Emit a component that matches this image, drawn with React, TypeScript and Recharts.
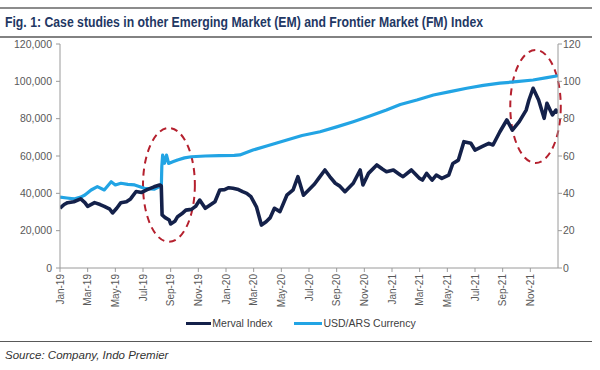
import React from "react";
import { LineChart, Line, XAxis, YAxis, ReferenceArea } from "recharts";

// x = months since 1 Jan 2019
const tickMonths = [0, 2, 4, 6, 8, 10, 12, 14, 16, 18, 20, 22, 24, 26, 28, 30, 32, 34];
const tickLabels = [
  "Jan-19", "Mar-19", "May-19", "Jul-19", "Sep-19", "Nov-19",
  "Jan-20", "Mar-20", "May-20", "Jul-20", "Sep-20", "Nov-20",
  "Jan-21", "Mar-21", "May-21", "Jul-21", "Sep-21", "Nov-21",
];

const mervalMonths = [
  0, 0.3, 0.55, 1, 1.5, 1.8, 2, 2.5, 2.9, 3.2, 3.6, 3.8, 4.1, 4.4, 4.8, 5.1, 5.5, 5.9,
  6.3, 6.8, 7.2, 7.32, 7.38, 7.6, 7.9, 8, 8.3, 8.5, 8.8, 9.1, 9.5, 9.8, 10.1, 10.5, 10.8,
  11.2, 11.55, 11.9, 12.2, 12.5, 12.9, 13.2, 13.5, 13.8, 14.2, 14.56, 14.9, 15.2, 15.5,
  15.9, 16.4, 16.85, 17.2, 17.6, 18.1, 18.4, 18.7, 19.15, 19.5, 19.9, 20.2, 20.6, 21.2,
  21.7, 21.9, 22.3, 22.9, 23.3, 23.6, 24.1, 24.6, 24.8, 25.4, 26, 26.2, 26.5, 26.9, 27.2,
  27.6, 28.1, 28.4, 28.8, 29.2, 29.7, 30, 30.5, 31, 31.3, 31.8, 32.3, 32.7, 33.2, 33.7,
  33.9, 34.2, 34.6, 35, 35.2, 35.6, 35.85, 36,
];
const mervalValues = [
  32000, 34000, 35000, 35500, 37000, 35000, 33000, 35000, 34000, 33000, 31500, 29500,
  32000, 35000, 35500, 37000, 41000, 40500, 42000, 43500, 44500, 44000, 28400, 27000,
  25700, 23600, 25000, 27500, 29000, 31000, 31400, 33000, 36400, 32000, 33500, 35500,
  41800, 42000, 43000, 42700, 42000, 40900, 40000, 38200, 32800, 23000, 24800, 27000,
  32000, 30200, 39000, 41800, 48900, 39000, 42700, 45000, 48000, 52500, 49000, 45400,
  44000, 40900, 45400, 52500, 44500, 50700, 55200, 53000, 51600, 52500, 49800, 48900,
  52500, 48000, 47100, 50700, 47100, 49800, 48000, 49800, 56000, 57800, 67700, 66800,
  63200, 65000, 66800, 65900, 73000, 79300, 73900, 78400, 84600, 90000, 96300, 90000,
  80200, 88200, 82000, 84600, 83000,
];

const usdMonths = [
  0, 0.5, 1, 1.5, 1.8, 2.25, 2.7, 3.2, 3.7, 4, 4.4, 4.9, 5.4, 6.1, 6.8, 7.2, 7.33, 7.36,
  7.42, 7.55, 7.7, 7.85, 8.2, 8.5, 9, 9.5, 10.5, 11.5, 12.6, 13, 13.95, 15, 16.4, 17.5,
  18.8, 20, 21.2, 22.4, 23.6, 24.6, 25.8, 27, 28.2, 29.4, 30.6, 31.8, 33, 34.2, 35.2, 36,
];
const usdValues = [
  38, 37.5, 37, 38, 39.1, 41.8, 43.6, 41.8, 46.2, 44.5, 45.4, 44.8, 44.5, 42.7, 42.2,
  43.6, 45, 54.3, 60.5, 56.1, 60.5, 56, 57, 57.9, 59, 59.6, 60, 60.2, 60.3, 60.6, 63.2,
  65.5, 68.6, 71, 73, 75.6, 78.4, 81.4, 84.6, 87.6, 90, 92.7, 94.5, 96.3, 97.8, 99, 99.8,
  100.7, 102, 103,
];

const leftTicks = [0, 20000, 40000, 60000, 80000, 100000, 120000];
const rightTicks = [0, 20, 40, 60, 80, 100, 120];

const mervalData = mervalMonths.map((m, i) => ({ m, v: mervalValues[i] }));
const usdData = usdMonths.map((m, i) => ({ m, v: usdValues[i] }));

const NAVY = "#14214a";
const SKY = "#22a4e4";
const AXIS = "#9a9a9a";
const LABEL = "#595959";
const FONT = "'Liberation Sans', Arial, sans-serif";

const fmtThousands = (v: number) => String(v).replace(/\B(?=(\d{3})+(?!\d))/g, ",");

const MonthTick = (props: any) => {
  const { x, y, payload } = props;
  const idx = tickMonths.indexOf(payload.value);
  return (
    <g transform={`translate(${x},${y})`}>
      <text
        transform="rotate(-90)"
        textAnchor="end"
        x={0}
        y={0}
        dy="0.35em"
        fontSize={10}
        fontFamily={FONT}
        fill={LABEL}
      >
        {idx >= 0 ? tickLabels[idx] : ""}
      </text>
    </g>
  );
};

const DashedEllipse = (props: any) => {
  const { x, y, width, height } = props;
  return (
    <ellipse
      cx={x + width / 2}
      cy={y + height / 2}
      rx={Math.abs(width) / 2}
      ry={Math.abs(height) / 2}
      fill="none"
      stroke="#b5202e"
      strokeWidth={2}
      strokeDasharray="7 5"
    />
  );
};

const App = () => {
  return (
    <div
      style={{
        position: "absolute",
        left: 0,
        top: 0,
        width: 600,
        height: 370,
        background: "#fff",
        fontFamily: FONT,
      }}
    >
      <svg width={600} height={44} style={{ position: "absolute", left: 0, top: 0 }}>
        <line x1={0} x2={592} y1={8} y2={8} stroke="#8c8c8c" strokeWidth={2} />
        <text
          x={5}
          y={27}
          fontSize={14.5}
          fontWeight="bold"
          fontFamily={FONT}
          fill="#1f3864"
          textLength={478}
          lengthAdjust="spacingAndGlyphs"
        >
          Fig. 1: Case studies in other Emerging Market (EM) and Frontier Market (FM) Index
        </text>
        <line x1={0} x2={592} y1={37} y2={37} stroke="#595959" strokeWidth={1.5} />
      </svg>

      <div style={{ position: "absolute", left: 0, top: 0 }}>
        <LineChart width={600} height={340} margin={{ top: 44, right: 0, left: 0, bottom: 32 }}>
          <XAxis
            dataKey="m"
            type="number"
            domain={[0, 36]}
            ticks={tickMonths}
            allowDataOverflow
            height={40}
            stroke={AXIS}
            tickSize={4}
            tickMargin={2}
            tick={<MonthTick />}
            interval={0}
          />
          <YAxis
            yAxisId="left"
            domain={[0, 120000]}
            ticks={leftTicks}
            width={60}
            stroke={AXIS}
            tickSize={4}
            tickMargin={4}
            tickFormatter={fmtThousands}
            tick={{ fontSize: 10.5, fill: LABEL, fontFamily: FONT }}
            interval={0}
          />
          <YAxis
            yAxisId="right"
            orientation="right"
            domain={[0, 120]}
            ticks={rightTicks}
            width={42}
            stroke={AXIS}
            tickSize={4}
            tickMargin={1}
            tick={{ fontSize: 10.5, fill: LABEL, fontFamily: FONT }}
            interval={0}
          />
          <Line
            data={usdData}
            dataKey="v"
            yAxisId="right"
            type="linear"
            stroke={SKY}
            strokeWidth={3.2}
            strokeLinejoin="round"
            dot={false}
            isAnimationActive={false}
          />
          <Line
            data={mervalData}
            dataKey="v"
            yAxisId="left"
            type="linear"
            stroke={NAVY}
            strokeWidth={3.6}
            strokeLinejoin="round"
            dot={false}
            isAnimationActive={false}
          />
          <ReferenceArea
            yAxisId="left"
            x1={6}
            x2={9.75}
            y1={14000}
            y2={75000}
            ifOverflow="visible"
            shape={<DashedEllipse />}
          />
          <ReferenceArea
            yAxisId="left"
            x1={32.55}
            x2={36.2}
            y1={56300}
            y2={116800}
            ifOverflow="visible"
            shape={<DashedEllipse />}
          />
        </LineChart>
      </div>

      <div
        style={{
          position: "absolute",
          top: 317,
          left: 0,
          width: 600,
          display: "flex",
          justifyContent: "center",
          alignItems: "center",
          fontSize: 10.5,
          color: "#404040",
        }}
      >
        <div style={{ display: "flex", alignItems: "center", marginLeft: 2 }}>
          <span style={{ display: "inline-block", width: 25, height: 3, background: NAVY, marginRight: 1 }} />
          <span>Merval Index</span>
        </div>
        <div style={{ display: "flex", alignItems: "center", marginLeft: 22 }}>
          <span style={{ display: "inline-block", width: 28, height: 3, background: SKY, marginRight: 1 }} />
          <span>USD/ARS Currency</span>
        </div>
      </div>

      <div
        style={{
          position: "absolute",
          left: 0,
          top: 341,
          width: 592,
          height: 0,
          borderTop: "1.5px solid #595959",
        }}
      />
      <div
        style={{
          position: "absolute",
          left: 5,
          top: 349,
          fontSize: 11.5,
          fontStyle: "italic",
          color: "#333",
        }}
      >
        Source: Company, Indo Premier
      </div>
    </div>
  );
};

export default App;
